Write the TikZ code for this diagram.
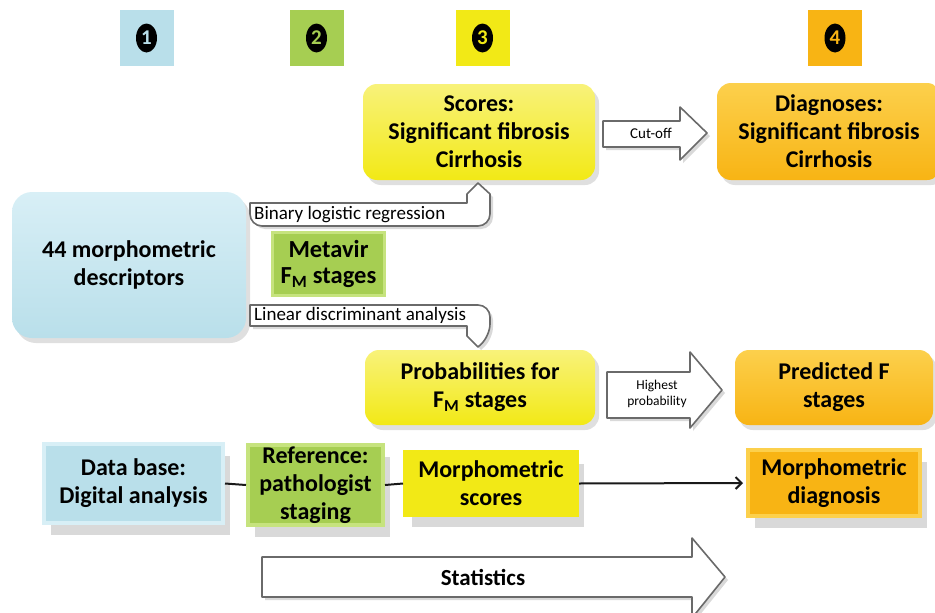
\documentclass[tikz,border=0pt]{standalone}
\usepackage{fontspec}
\setmainfont{Carlito}
\usetikzlibrary{shadows,shapes.geometric,arrows.meta}
\definecolor{cblue}{HTML}{B9DFEA}
\definecolor{cbluel}{HTML}{D8EFF6}
\definecolor{cgreen}{HTML}{A6CE52}
\definecolor{cgreenl}{HTML}{C6E37E}
\definecolor{cyellow}{HTML}{F2E916}
\definecolor{cyellowl}{HTML}{F8F27A}
\definecolor{corange}{HTML}{F8B414}
\definecolor{corangel}{HTML}{FCD04C}
\definecolor{cline}{HTML}{6A6A6A}
\begin{document}
\begin{tikzpicture}[x=1pt,y=-1pt,
  bigtxt/.style={font=\bfseries\fontsize{24}{28}\selectfont, align=center, text=black},
  rbox/.style={bigtxt, rounded corners=14pt, inner sep=0pt,
    drop shadow={opacity=0.25, shadow xshift=4pt, shadow yshift=-5pt}},
  sbox/.style={bigtxt, inner sep=0pt, line width=4pt,
    drop shadow={opacity=0.3, shadow xshift=7pt, shadow yshift=-12pt}},
  badge/.style={minimum width=54pt, minimum height=56pt, inner sep=0pt},
  num/.style={ellipse, fill=black, minimum width=21pt, minimum height=29pt, inner sep=0pt,
    font=\bfseries\fontsize{21}{21}\selectfont},
  callout/.style={fill=white, draw=cline, line width=1.6pt, line join=round,
    drop shadow={opacity=0.3, shadow xshift=3pt, shadow yshift=-3pt}},
  small/.style={font=\fontsize{19}{22}\selectfont, inner sep=0pt},
  link/.style={line width=2pt, draw=black!90}
]
\useasboundingbox (0,0) rectangle (935,613);

% badges
\node[badge, fill=cblue]   (b1) at (146.5,38) {};
\node[badge, fill=cgreen]  (b2) at (316.5,38) {};
\node[badge, fill=cyellow] (b3) at (482.5,38) {};
\node[badge, fill=corange] (b4) at (835,38) {};
\node[num, text=cblue]   (n1) at (b1) {1};
\node[num, text=cgreen]  (n2) at (b2) {2};
\node[num, text=cyellow] (n3) at (b3) {3};
\node[num, text=corange] (n4) at (b4) {4};

% rounded boxes
\node[rbox, top color=cyellowl, bottom color=cyellow, minimum width=232pt, minimum height=96pt]
  (scores) at (479,132) {Scores:\\Significant fibrosis\\Cirrhosis};
\node[rbox, top color=corangel, bottom color=corange, minimum width=224pt, minimum height=97pt]
  (diag) at (829,131.5) {Diagnoses:\\Significant fibrosis\\Cirrhosis};
\node[rbox, rounded corners=20pt, top color=cbluel, bottom color=cblue, minimum width=234pt, minimum height=146pt]
  (desc) at (129,265) {44 morphometric\\descriptors};
\node[bigtxt, inner sep=0pt, fill=cgreen, draw=cgreenl, line width=3pt, minimum width=112pt, minimum height=63pt,
  font=\bfseries\fontsize{24.5}{26}\selectfont]
  (meta) at (328.5,264) {Metavir\\F\textsubscript{M} stages};
\node[rbox, top color=cyellowl, bottom color=cyellow, minimum width=230pt, minimum height=75pt]
  (prob) at (480,387.5) {Probabilities for\\F\textsubscript{M} stages};
\node[rbox, top color=corangel, bottom color=corange, minimum width=198pt, minimum height=75pt]
  (pred) at (834,387.5) {Predicted F\\stages};

% bottom row
\node[sbox, fill=cblue, draw=cbluel, minimum width=179pt, minimum height=79pt]
  (db) at (133.5,483.5) {Data base:\\Digital analysis};
\node[sbox, fill=cgreen, draw=cgreenl, minimum width=135pt, minimum height=80pt]
  (ref) at (315.5,485) {Reference:\\pathologist\\staging};
\node[sbox, fill=cyellow, draw=cyellow, minimum width=172pt, minimum height=63pt]
  (ms) at (491,483.5) {Morphometric\\scores};
\node[sbox, fill=corange, draw=corangel, minimum width=172pt, minimum height=66pt]
  (md) at (834,483) {Morphometric\\diagnosis};

\draw[link] (db.east) -- (ref.west);
\draw[link] (ref.east) -- (ms.west);
\draw[link, -{Straight Barb[length=6pt,width=12pt]}, shorten >=3pt] (ms.east) -- (md.west);

% callouts
\path[callout] (250,203) -- (467,203) -- (467,194) -- (478,183) -- (490,194)
  {[rounded corners=12pt] -- (490,226) -- (250,226)} -- cycle;
\node[small, anchor=west] (blr) at (254,214.5) {Binary logistic regression};

\path[callout] (250,305) {[rounded corners=12pt] -- (490,305) -- (490,336)}
  -- (478,347) -- (467,336) -- (467,326) -- (250,326) -- cycle;
\node[small, anchor=west] (lda) at (254,315.5) {Linear discriminant analysis};

\path[callout] (603,121) -- (680,121) -- (680,107) -- (707,133) -- (680,160) -- (680,147) -- (603,147) -- cycle;
\node[font=\fontsize{15}{16}\selectfont] (cut) at (651,133) {Cut-off};

\path[callout] (607,372) -- (690,372) -- (690,352) -- (722,390) -- (690,428) -- (690,418) -- (607,418) -- cycle;
\node[align=center, font=\fontsize{13.5}{16}\selectfont] (hp) at (657,394) {Highest\\probability};

\path[callout] (262,557) -- (692,557) -- (692,538) -- (725,577) -- (692,618) -- (692,597) -- (262,597) -- cycle;
\node[font=\bfseries\fontsize{23}{26}\selectfont] (st) at (483,577) {Statistics};
\end{tikzpicture}
\end{document}
